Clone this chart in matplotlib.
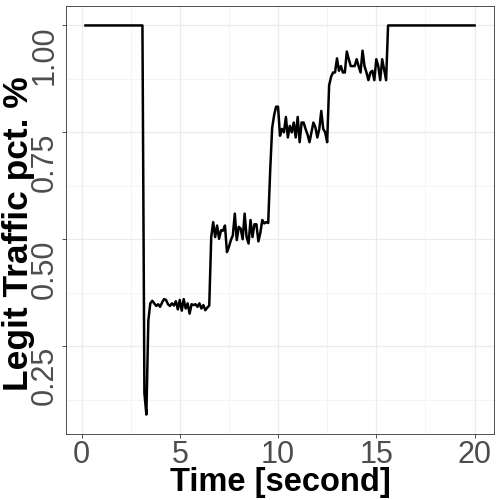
import numpy as np
import matplotlib
matplotlib.use('Agg')
import matplotlib.pyplot as plt
from matplotlib.ticker import MultipleLocator

plt.rcParams['font.family'] = ['Liberation Sans', 'DejaVu Sans']

# Tempo campionato ogni 0.1 s, da 0.2 a 20.0
time = np.round(np.arange(2, 201) / 10, 1)

# Valori, per fase
before_attack = [1.00] * 30                     # 0.2 .. 3.1
drop = [0.14, 0.09, 0.31, 0.35]                 # 3.2 .. 3.5
level_1 = [0.356, 0.350, 0.344, 0.348, 0.342, 0.352, 0.360, 0.358, 0.348, 0.344,
           0.350, 0.345, 0.355, 0.336, 0.358, 0.333, 0.360, 0.338, 0.350, 0.326,
           0.348, 0.346, 0.348, 0.342, 0.350, 0.338, 0.346, 0.334, 0.340, 0.345]  # 3.6 .. 6.5
level_2 = [0.505, 0.540, 0.505, 0.532, 0.501, 0.521, 0.520, 0.532, 0.470, 0.482,
           0.498, 0.509, 0.560, 0.498, 0.529, 0.525, 0.500, 0.560, 0.505, 0.490,
           0.545, 0.505, 0.535, 0.535, 0.495, 0.515, 0.545, 0.537, 0.540, 0.538]  # 6.6 .. 9.5
level_3 = [0.660, 0.760, 0.790, 0.810, 0.810, 0.742, 0.758, 0.750, 0.786, 0.738,
           0.765, 0.750, 0.773, 0.738, 0.786, 0.727, 0.773, 0.773, 0.758, 0.745,
           0.727, 0.750, 0.773, 0.762, 0.738, 0.758, 0.800, 0.758, 0.750, 0.727]  # 9.6 .. 12.5
level_4 = [0.860, 0.880, 0.890, 0.890, 0.923, 0.894, 0.905, 0.890, 0.890, 0.939,
           0.921, 0.905, 0.905, 0.905, 0.921, 0.905, 0.890, 0.941, 0.905, 0.890,
           0.872, 0.890, 0.894, 0.872, 0.921, 0.905, 0.872, 0.921, 0.897, 0.872]  # 12.6 .. 15.5
after_attack = [1.00] * 45                      # 15.6 .. 20.0

legit = np.array(before_attack + drop + level_1 + level_2 + level_3 + level_4 + after_attack)

x_ticks = [0, 5, 10, 15, 20]
y_ticks = [0.25, 0.50, 0.75, 1.00]
y_tick_labels = ['0.25', '0.50', '0.75', '1.00']


def main():
    fig = plt.figure(figsize=(5, 5), dpi=100)
    ax = fig.add_axes([0.132, 0.132, 0.856, 0.856])

    ax.plot(time, legit, color='black', lw=1.8, zorder=3)

    # espansione 5% come ggplot
    xr = time.max() - time.min()
    yr = legit.max() - legit.min()
    ax.set_xlim(time.min() - 0.05 * xr, time.max() + 0.05 * xr)
    ax.set_ylim(legit.min() - 0.05 * yr, legit.max() + 0.05 * yr)

    ax.set_xticks(x_ticks)
    ax.set_yticks(y_ticks)
    # etichette ruotate, allineate in alto sul tick (hjust = 1 in ggplot)
    ax.set_yticklabels(y_tick_labels, rotation=90, va='top')
    ax.xaxis.set_minor_locator(MultipleLocator(2.5))
    ax.yaxis.set_minor_locator(MultipleLocator(0.125))

    ax.grid(True, which='major', color='#EBEBEB', lw=0.9, zorder=0)
    ax.grid(True, which='minor', color='#F2F2F2', lw=0.6, zorder=0)
    ax.set_axisbelow(True)

    for s in ax.spines.values():
        s.set_color('#333333')
        s.set_linewidth(0.6)

    ax.tick_params(which='major', length=3, width=0.6, color='#333333',
                   labelsize=22, labelcolor='#4D4D4D', pad=1.5)
    ax.tick_params(which='minor', length=0)

    ax.set_xlabel('Time [second]', fontsize=23.5, fontweight='bold', labelpad=-2)
    ax.set_ylabel('Legit Traffic pct. %', fontsize=25.5, fontweight='bold', labelpad=-2)
    ax.yaxis.set_label_coords(-0.072, 0.468)

    fig.savefig('out.png', dpi=100)


if __name__ == '__main__':
    main()
